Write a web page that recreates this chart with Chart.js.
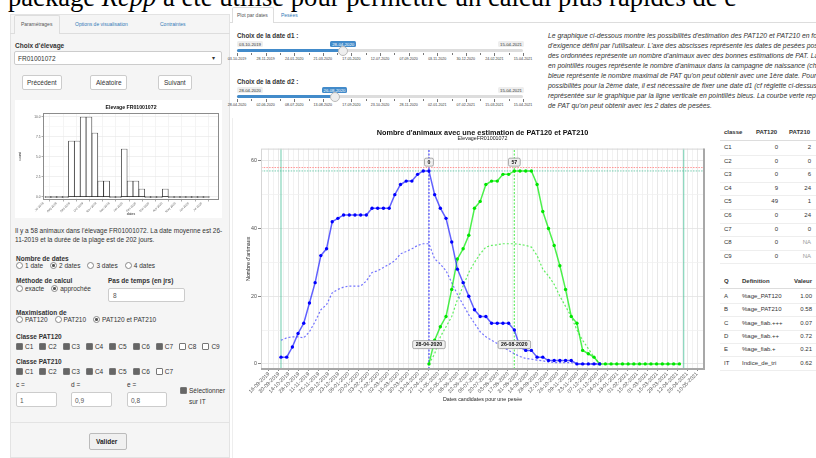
<!DOCTYPE html>
<html lang="fr">
<head>
<meta charset="utf-8">
<title>Elevage FR01001072</title>
<script src="https://cdn.jsdelivr.net/npm/chart.js@4.4.1/dist/chart.umd.min.js"></script>
<style>
body{margin:0;width:816px;height:458px;overflow:hidden;position:relative;background:#fff;font-family:"Liberation Sans",Arial,sans-serif;font-size:6.5px;color:#333}
.a{position:absolute;white-space:nowrap}
.b{font-weight:bold}
.lnk{color:#337ab7}
.o{margin-right:7px}
.box{position:absolute;background:#fff;border:1px solid #ccc;border-radius:2px;box-sizing:border-box}
.rd{display:inline-block;width:5px;height:5px;border:0.8px solid #888;border-radius:50%;background:#fff;vertical-align:-1px;margin-right:2px;position:relative}
.rd.on::after{content:"";position:absolute;left:1.2px;top:1.2px;width:2.6px;height:2.6px;border-radius:50%;background:#555}
.ck{display:inline-block;width:5px;height:5px;border:0.8px solid #777;border-radius:1px;background:#fff;vertical-align:-1px;margin-right:2px}
.ck.on{background:#666}
.pill{position:absolute;font-size:4.3px;padding:0.5px 2px;border-radius:1.5px;background:#eee;color:#333}
.pill.val{background:#428bca;color:#fff}
.track{position:absolute;height:3px;border-radius:2px;background:#ddd}
.fill{position:absolute;height:3px;border-radius:2px;background:#428bca}
.handle{position:absolute;width:10px;height:10px;border-radius:50%;background:#eee;border:1px solid #bbb;box-sizing:border-box}
.tk{position:absolute;width:0.8px;background:#777}
.tl{position:absolute;font-size:3.6px;color:#333;transform:translateX(-50%)}
.desc{position:absolute;left:548px;top:31px;font-size:6.8px;font-style:italic;line-height:10px;white-space:nowrap;color:#333}
.tbl{position:absolute;font-size:6px;color:#333}
.tab{position:absolute;white-space:nowrap;font-size:5px}
</style>
</head>
<body>

<div class="a" style="left:8px;top:-18px;font:26.6px 'Liberation Serif';color:#000">package <i>Rcpp</i> a été utilisé pour permettre un calcul plus rapides de c</div>

<!-- barre latérale -->
<div class="a" style="left:10px;top:14px;width:220px;height:444px;background:#f5f5f5;border:1px solid #e3e3e3;box-sizing:border-box"></div>
<div class="a" style="left:10px;top:33px;width:220px;border-top:1px solid #ddd"></div>
<div class="a" style="left:14px;top:15px;width:46px;height:19px;background:#f5f5f5;border:1px solid #ddd;border-bottom:none;border-radius:2px 2px 0 0;box-sizing:border-box"></div>
<div class="tab" style="left:21px;top:21px;color:#555">Paramétrages</div>
<div class="tab lnk" style="left:75px;top:21px">Options de visualisation</div>
<div class="tab lnk" style="left:160px;top:21px">Contraintes</div>

<div class="a b" style="left:15px;top:42px">Choix d'élevage</div>
<div class="box" style="left:14px;top:51px;width:208px;height:14px"></div>
<div class="a" style="left:18px;top:55px">FR01001072</div>
<div class="a" style="left:212px;top:54px;font-size:6px">▾</div>

<div class="box" style="left:22px;top:75px;width:40px;height:15px"></div>
<div class="a" style="left:27px;top:79px">Précédent</div>
<div class="box" style="left:90px;top:75px;width:37px;height:15px"></div>
<div class="a" style="left:96px;top:79px">Aléatoire</div>
<div class="box" style="left:158px;top:75px;width:34px;height:15px"></div>
<div class="a" style="left:164px;top:79px">Suivant</div>

<div class="a" style="left:15px;top:100px;width:207px;height:118px;background:#fff">
  <canvas id="histo"></canvas>
</div>

<div class="a" style="left:15px;top:226px;line-height:9px">Il y a 58 animaux dans l'élevage FR01001072. La date moyenne est 26-<br>11-2019 et la durée de la plage est de 202 jours.</div>

<div class="a b" style="left:16px;top:255px">Nombre de dates</div>
<div class="a" style="left:16px;top:262px"><span class="o"><span class="rd"></span>1 date</span><span class="o"><span class="rd on"></span>2 dates</span><span class="o"><span class="rd"></span>3 dates</span><span class="o"><span class="rd"></span>4 dates</span></div>

<div class="a b" style="left:16px;top:277px">Méthode de calcul</div>
<div class="a b" style="left:108px;top:277px">Pas de temps (en jrs)</div>
<div class="a" style="left:16px;top:285px"><span class="o"><span class="rd"></span>exacte</span><span class="o"><span class="rd on"></span>approchée</span></div>
<div class="box" style="left:108px;top:288px;width:77px;height:14px"></div>
<div class="a" style="left:113px;top:292px;color:#555">8</div>

<div class="a b" style="left:16px;top:309px">Maximisation de</div>
<div class="a" style="left:16px;top:316px"><span class="o"><span class="rd"></span>PAT120</span><span class="o"><span class="rd"></span>PAT210</span><span class="o"><span class="rd on"></span>PAT120 et PAT210</span></div>

<div class="a b" style="left:16px;top:333px">Classe PAT120</div>
<div id="cls120"></div>
<div class="a b" style="left:16px;top:358px">Classe PAT210</div>
<div id="cls210"></div>

<div class="a" style="left:16px;top:381px">c =</div>
<div class="a" style="left:71px;top:381px">d =</div>
<div class="a" style="left:127px;top:381px">e =</div>
<div class="box" style="left:16px;top:392px;width:41px;height:15px"></div>
<div class="a" style="left:20px;top:397px;color:#555">1</div>
<div class="box" style="left:71px;top:392px;width:41px;height:15px"></div>
<div class="a" style="left:75px;top:397px;color:#555">0,9</div>
<div class="box" style="left:127px;top:392px;width:40px;height:15px"></div>
<div class="a" style="left:131px;top:397px;color:#555">0,8</div>
<div class="a" style="left:180px;top:387px"><span class="ck on"></span>Sélectionner</div>
<div class="a" style="left:189px;top:398px">sur IT</div>

<div class="a" style="left:10px;top:422px;width:220px;border-top:1px solid #e3e3e3"></div>
<div class="box" style="left:89px;top:433px;width:38px;height:17px;background:#f0f0f0;border-color:#bbb"></div>
<div class="a b" style="left:96px;top:438px;color:#222">Valider</div>

<!-- zone principale -->
<div class="a" style="left:230px;top:22px;width:586px;border-top:1px solid #ddd"></div>
<div class="a" style="left:232px;top:7px;width:42px;height:16px;background:#fff;border:1px solid #ddd;border-bottom:none;border-radius:2px 2px 0 0;box-sizing:border-box"></div>
<div class="tab" style="left:237px;top:12px;color:#555">Plot par dates</div>
<div class="tab lnk" style="left:281px;top:12px">Pesées</div>

<div id="sliders"></div>

<div class="desc">Le graphique ci-dessous montre les possibilités d'estimation des PAT120 et PAT210 en fonction du niveau<br>d'exigence défini par l'utilisateur. L'axe des abscisses représente les dates de pesées possibles et l'axe<br>des ordonnées représente un nombre d'animaux avec des bonnes estimations de PAT. La ligne horizontale<br>en pointillés rouges représente le nombre d'animaux dans la campagne de naissance (choisie). La courbe<br>bleue représente le nombre maximal de PAT qu'on peut obtenir avec une 1ère date. Pour voir les<br>possibilités pour la 2ème date, il est nécessaire de fixer une date d1 (cf réglette ci-dessus), qui est<br>représentée sur le graphique par la ligne verticale en pointillés bleus. La courbe verte représente le nombre<br>de PAT qu'on peut obtenir avec les 2 dates de pesées.</div>

<div class="a" style="left:232px;top:118px;width:0;height:340px;border-left:1px solid #eee"></div>
<div class="a" style="left:232px;top:122px;width:480px;height:286px">
  <canvas id="mainChart"></canvas>
</div>

<div id="tables"></div>

<script>
// ---------- données du graphique principal ----------
const stepDays = 8;                 // pas de temps (jrs)
const seriesStart = "03-10-2019";   // première date candidate
const d1 = "28-04-2020";
const d2 = "26-08-2020";
const rangeLines = ["03-10-2019", "21-04-2021"];
const xTickFirst = "16-09-2019";
const xTickLast = "10-05-2021";
const yTicks = [0, 20, 40, 60];
const campaignCount = 58;   // ligne rouge
const maxPat = 57;          // ligne verte horizontale
const topLabels = ["0", "57"];

// PAT max avec une 1ère date (bleu plein) et PAT210 associé (bleu pointillé)
const blueSolid = [2, 2, 5, 9, 12, 18, 24, 32, 34, 42, 43, 44, 44, 44, 44, 44, 46, 46, 46, 46,
  50, 53, 54, 54, 56, 57, 57, 50, 46, 43, 36, 28, 24, 20, 16, 14, 14, 12, 12, 12,
  12, 10, 5, 4, 4, 2, 2, 1, 1, 1, 1, 1, 0, 0, 0, 0, 0];
const blueDotted = [7, 7.7, 8, 8, 7.7, 9.5, 12.5, 16, 17.5, 21, 22, 22.7, 23, 23, 23, 24.5, 27, 27.5, 28.5, 29.4,
  30.5, 32.5, 33.2, 34, 35, 35.5, 35.5, 31, 29.5, 27.5, 24, 20.5, 17.5, 14.5, 12, 9.5, 8, 7, 6, 5,
  4, 3, 2.2, 1.6, 1.4, 1.1, 0.9, 0.6, 0.4, 0.4, 0.4, 0.4, 0, 0, 0, 0, 0];
// PAT avec les 2 dates, à partir de d1 (vert plein / pointillé)
const greenSolid = [0, 7, 11, 14, 22, 31, 34, 38, 46, 48, 53, 54, 54, 56, 56, 57, 57, 57, 57, 53,
  45, 40, 35, 29, 22, 14, 12, 4, 3, 2, 0, 0, 0, 0, 0, 0, 0, 0, 0, 0, 0, 0, 0, 0, 0];
const greenDotted = [0, 3, 8, 11, 14, 19, 23, 27, 30, 32.5, 34.5, 35, 35.2, 35.5, 35.5, 35.5, 35.3, 35, 34.5, 32,
  28, 26, 23.5, 20, 17, 14, 10, 7, 4.5, 2, 0];

// ---------- données de l'histogramme ----------
const histTitle = "Elevage FR01001072";
const histCounts = [0, 0, 0, 0, 7, 7, 10, 10, 8, 2, 2, 0, 0, 6, 2, 2, 1, 0, 0, 0, 1, 0, 0, 0, 0, 0, 0, 0];
const histTickLabels = ["Jul 2019", "Aug 2019", "Sep 2019", "Oct 2019", "Nov 2019", "Dec 2019", "Jan 2020",
  "Feb 2020", "Mar 2020", "Apr 2020", "May 2020", "Jun 2020", "Jul 2020"];
const histTickPos = [-0.8, 1.45, 3.7, 5.95, 8.2, 10.45, 12.7, 14.95, 17.2, 19.45, 21.7, 23.95, 26.2];
const histYTicks = [0, 2.5, 5, 7.5, 10];

// ---------- tableaux ----------
const classes = ["C1", "C2", "C3", "C4", "C5", "C6", "C7", "C8", "C9"];
const pat120 = ["0", "0", "0", "9", "49", "0", "0", "0", "0"];
const pat210 = ["2", "0", "6", "24", "1", "24", "0", "NA", "NA"];
const qCodes = ["A", "B", "C", "D", "E", "IT"];
const qDefs = ["%age_PAT120", "%age_PAT210", "%age_fiab.+++", "%age_fiab.++", "%age_fiab.+", "Indice_de_tri"];
const qVals = ["1.00", "0.58", "0.07", "0.72", "0.21", "0.62"];

// ---------- sliders ----------
const slider1Ticks = ["03-10-2019", "28-11-2019", "24-01-2020", "21-03-2020", "17-05-2020", "12-07-2020",
  "07-09-2020", "03-11-2020", "30-12-2020", "24-02-2021", "15-04-2021"];
const slider2Ticks = ["28-04-2020", "02-06-2020", "08-07-2020", "13-08-2020", "17-09-2020", "23-10-2020",
  "28-11-2020", "02-01-2021", "07-02-2021", "15-03-2021", "15-04-2021"];

const epoch = Date.UTC(2019, 8, 16);
function dayOf(s) {
  const p = s.split("-").map(Number);
  return (Date.UTC(p[2], p[1] - 1, p[0]) - epoch) / 86400000;
}
function pad(n) { return (n < 10 ? "0" : "") + n; }
function fmt(day) {
  const dt = new Date(epoch + day * 86400000);
  return pad(dt.getUTCDate()) + "-" + pad(dt.getUTCMonth() + 1) + "-" + dt.getUTCFullYear();
}
function toPoints(values, start) {
  const s = dayOf(start);
  return values.map((v, i) => ({ x: s + i * stepDays, y: v }));
}

// sliders (HTML)
function buildSlider(top, label, ticks, value) {
  const host = document.getElementById("sliders");
  const left = 237, width = 286;
  const first = dayOf(ticks[0]), last = dayOf(ticks[ticks.length - 1]);
  const hx = left + (dayOf(value) - first) / (last - first) * width;
  let h = '<div class="a b" style="left:237px;top:' + top + 'px;font-size:6.3px">' + label + '</div>';
  h += '<div class="pill" style="left:237px;top:' + (top + 9) + 'px">' + ticks[0] + '</div>';
  h += '<div class="pill" style="left:498px;top:' + (top + 9) + 'px">' + ticks[ticks.length - 1] + '</div>';
  h += '<div class="pill val" style="left:' + (hx - 13) + 'px;top:' + (top + 9) + 'px">' + value + '</div>';
  h += '<div class="track" style="left:' + left + 'px;top:' + (top + 17) + 'px;width:' + width + 'px"></div>';
  h += '<div class="fill" style="left:' + left + 'px;top:' + (top + 17) + 'px;width:' + (hx - left) + 'px"></div>';
  for (let i = 0; i < ticks.length; i++) {
    const x = left + i * width / (ticks.length - 1);
    h += '<div class="tk" style="left:' + x + 'px;top:' + (top + 21) + 'px;height:3px"></div>';
    if (i < ticks.length - 1) h += '<div class="tk" style="left:' + (x + width / (ticks.length - 1) / 2) + 'px;top:' + (top + 21) + 'px;height:2px"></div>';
    h += '<div class="tl" style="left:' + x + 'px;top:' + (top + 25) + 'px">' + ticks[i] + '</div>';
  }
  h += '<div class="handle" style="left:' + (hx - 5) + 'px;top:' + (top + 13.5) + 'px"></div>';
  host.insertAdjacentHTML("beforeend", h);
}
buildSlider(32, "Choix de la date d1 :", slider1Ticks, d1);
buildSlider(78, "Choix de la date d2 :", slider2Ticks, d2);

// cases à cocher
function checks(id, top, n, on) {
  let h = "";
  for (let i = 0; i < n; i++) {
    h += '<div class="a" style="left:' + (16 + i * 23.3) + 'px;top:' + top + 'px"><span class="ck' + (i < on ? ' on' : '') + '"></span>C' + (i + 1) + '</div>';
  }
  document.getElementById(id).innerHTML = h;
}
checks("cls120", 343, 9, 7);
checks("cls210", 368, 7, 6);

// tableaux
(function () {
  let h = '<div class="a b tbl" style="left:724px;top:129px">classe</div>';
  h += '<div class="a b tbl" style="left:756px;top:129px">PAT120</div>';
  h += '<div class="a b tbl" style="left:789px;top:129px">PAT210</div>';
  h += '<div class="a" style="left:720px;top:140px;width:96px;border-top:1.5px solid #ddd"></div>';
  classes.forEach((c, i) => {
    const y = 144 + i * 13.6;
    h += '<div class="a tbl" style="left:724px;top:' + y + 'px">' + c + '</div>';
    h += '<div class="a tbl" style="right:' + (816 - 778) + 'px;top:' + y + 'px">' + pat120[i] + '</div>';
    h += '<div class="a tbl" style="right:' + (816 - 811) + 'px;top:' + y + 'px;' + (pat210[i] === "NA" ? 'color:#999' : '') + '">' + pat210[i] + '</div>';
    h += '<div class="a" style="left:720px;top:' + (y + 10.5) + 'px;width:96px;border-top:1px solid #eee"></div>';
  });
  h += '<div class="a b tbl" style="left:724px;top:278px">Q</div>';
  h += '<div class="a b tbl" style="left:742px;top:278px">Definition</div>';
  h += '<div class="a b tbl" style="right:4px;top:278px">Valeur</div>';
  h += '<div class="a" style="left:720px;top:288px;width:96px;border-top:1.5px solid #ddd"></div>';
  qCodes.forEach((q, i) => {
    const y = 293 + i * 13.3;
    h += '<div class="a tbl" style="left:724px;top:' + y + 'px">' + q + '</div>';
    h += '<div class="a tbl" style="left:742px;top:' + y + 'px">' + qDefs[i] + '</div>';
    h += '<div class="a tbl" style="right:4px;top:' + y + 'px">' + qVals[i] + '</div>';
    h += '<div class="a" style="left:720px;top:' + (y + 10) + 'px;width:96px;border-top:1px solid #eee"></div>';
  });
  document.getElementById("tables").innerHTML = h;
})();

Chart.defaults.font.family = '"Liberation Sans", Arial, sans-serif';
Chart.defaults.color = "#4d4d4d";
Chart.defaults.animation = false;
Chart.defaults.plugins.legend.display = false;
Chart.defaults.plugins.tooltip.enabled = false;

// cadre du panneau (style ggplot)
const frame = {
  id: "frame",
  afterDraw(chart, args, opts) {
    const { ctx, chartArea: a } = chart;
    ctx.save();
    ctx.strokeStyle = opts.color || "#ccc";
    ctx.lineWidth = 1;
    ctx.strokeRect(a.left + 0.5, a.top + 0.5, a.right - a.left - 1, a.bottom - a.top - 1);
    if (opts.shadow) {
      ctx.strokeStyle = "#a8a8a8";
      ctx.lineWidth = 2;
      ctx.beginPath();
      ctx.moveTo(a.left, a.bottom);
      ctx.lineTo(a.right, a.bottom);
      ctx.lineTo(a.right, a.top);
      ctx.stroke();
    }
    ctx.restore();
  }
};

// étiquettes des dates d1 / d2
const tags = {
  id: "tags",
  afterDatasetsDraw(chart) {
    const { ctx, scales: { x, y } } = chart;
    const marks = [
      { text: topLabels[0], day: dayOf(d1), v: 59.6 },
      { text: topLabels[1], day: dayOf(d2), v: 59.6 },
      { text: d1, day: dayOf(d1), v: 5.7 },
      { text: d2, day: dayOf(d2), v: 5.7 }
    ];
    ctx.save();
    ctx.font = 'bold 5.2px "Liberation Sans", Arial, sans-serif';
    ctx.textAlign = "center";
    ctx.textBaseline = "middle";
    marks.forEach(m => {
      const px = x.getPixelForValue(m.day), py = y.getPixelForValue(m.v);
      const w = ctx.measureText(m.text).width + 6, h = 8;
      ctx.beginPath();
      ctx.roundRect(px - w / 2, py - h / 2, w, h, 1.5);
      ctx.fillStyle = "#efefef";
      ctx.fill();
      ctx.strokeStyle = "#8a8a8a";
      ctx.lineWidth = 0.7;
      ctx.stroke();
      ctx.fillStyle = "#111";
      ctx.fillText(m.text, px, py + 0.3);
    });
    ctx.restore();
  }
};

const yMin = -1.5, yMax = 63.6;
const xMin = -11.1, xMax = 611.6;
function vLine(date, color, dash) {
  return { data: [{ x: dayOf(date), y: yMin }, { x: dayOf(date), y: yMax }], borderColor: color, borderWidth: 1.3, borderDash: dash, pointRadius: 0 };
}
function hLine(v, color, dash) {
  return { data: [{ x: xMin, y: v }, { x: xMax, y: v }], borderColor: color, borderWidth: 1, borderDash: dash, pointRadius: 0 };
}

new Chart(document.getElementById("mainChart"), {
  type: "line",
  data: {
    datasets: [
      { data: toPoints(blueSolid, seriesStart), borderColor: "rgba(30,30,255,0.7)", borderWidth: 1.5, pointRadius: 1.7, pointBackgroundColor: "#0000ff", pointBorderWidth: 0 },
      { data: toPoints(greenSolid, d1), borderColor: "rgba(0,235,0,0.7)", borderWidth: 1.5, pointRadius: 1.7, pointBackgroundColor: "#00e600", pointBorderWidth: 0 },
      { data: toPoints(blueDotted, seriesStart), borderColor: "rgba(80,80,255,0.8)", borderWidth: 1.2, borderDash: [2, 2], pointRadius: 0 },
      { data: toPoints(greenDotted, d1), borderColor: "rgba(60,235,60,0.8)", borderWidth: 1.2, borderDash: [2, 2], pointRadius: 0 },
      vLine(d1, "rgba(60,60,255,0.85)", [2, 1.5]),
      vLine(d2, "rgba(90,235,90,0.85)", [2, 1.5]),
      hLine(campaignCount, "rgba(255,120,120,0.8)", [1.5, 1.2]),
      hLine(maxPat, "rgba(70,190,150,0.75)", [1.5, 1.2]),
      vLine(rangeLines[0], "rgba(70,190,150,0.6)", []),
      vLine(rangeLines[1], "rgba(70,190,150,0.6)", [])
    ].map(d => Object.assign({ tension: 0, fill: false }, d))
  },
  options: {
    responsive: true,
    maintainAspectRatio: false,
    layout: { padding: { left: 0, right: 8, top: 0, bottom: 0 } },
    plugins: {
      title: { display: true, fullSize: false, text: "Nombre d'animaux avec une estimation de PAT120 et PAT210", color: "#111", font: { size: 7.3, lineHeight: 1 }, padding: { top: 7, bottom: 0 } },
      subtitle: { display: true, fullSize: false, text: "ElevageFR01001072", color: "#222", font: { size: 5.3, lineHeight: 1 }, padding: { top: 0, bottom: 7 } },
      frame: { shadow: true, color: "#d6d6d6" }
    },
    scales: {
      x: {
        type: "linear", min: xMin, max: xMax,
        afterBuildTicks: s => {
          const t = [];
          for (let d = dayOf(xTickFirst); d <= dayOf(xTickLast); d += 7) t.push({ value: d });
          s.ticks = t;
        },
        afterFit: s => { s.height = 39; },
        border: { display: false },
        grid: {
          color: c => (c.tick && c.tick.value % 14 === 0) ? "#e2e2e2" : "#efefef",
          tickColor: c => (c.tick && c.tick.value % 14 === 0) ? "#666" : "rgba(0,0,0,0)",
          tickLength: 2, lineWidth: 0.8
        },
        ticks: {
          autoSkip: false, minRotation: 45, maxRotation: 45, padding: 0,
          font: { size: 5.3 }, color: "#4d4d4d",
          callback: v => v % 14 === 0 ? fmt(v) : ""
        },
        title: { display: true, text: "Dates candidates pour une pesée", color: "#222", font: { size: 5.3, lineHeight: 1 }, padding: { top: 0, bottom: 6 } }
      },
      y: {
        min: yMin, max: yMax,
        afterBuildTicks: s => {
          const t = [];
          for (let v = yTicks[0]; v <= yTicks[yTicks.length - 1]; v += 10) t.push({ value: v });
          s.ticks = t;
        },
        afterFit: s => { s.width = 29; },
        border: { display: false },
        grid: {
          color: c => (c.tick && yTicks.includes(c.tick.value)) ? "#e2e2e2" : "#f0f0f0",
          tickColor: c => (c.tick && yTicks.includes(c.tick.value)) ? "#666" : "rgba(0,0,0,0)",
          tickLength: 3, lineWidth: 0.8
        },
        ticks: { padding: 1, font: { size: 5.3 }, color: "#4d4d4d", callback: v => yTicks.includes(v) ? String(v) : "" },
        title: { display: true, text: "Nombre d'animaux", color: "#222", font: { size: 5.3, lineHeight: 1 }, padding: { top: 13.5, bottom: 0 } }
      }
    }
  },
  plugins: [frame, tags]
});

// histogramme
new Chart(document.getElementById("histo"), {
  type: "bar",
  data: {
    datasets: [{
      data: histCounts.map((c, i) => ({ x: i, y: c })),
      backgroundColor: "#fff", borderColor: "#1a1a1a", borderWidth: 0.7, borderSkipped: false,
      barPercentage: 1, categoryPercentage: 1, minBarLength: 0.7
    }]
  },
  options: {
    responsive: true,
    maintainAspectRatio: false,
    layout: { padding: { right: 3 } },
    plugins: {
      title: { display: true, fullSize: false, text: histTitle, color: "#111", font: { size: 5.2, lineHeight: 1 }, padding: { top: 4.5, bottom: 3.3 } },
      frame: { color: "#8c8c8c" }
    },
    scales: {
      x: {
        type: "linear", min: -0.84, max: 29.15, offset: false,
        afterBuildTicks: s => { s.ticks = histTickPos.map(v => ({ value: v })); },
        afterFit: s => { s.height = 18; },
        border: { display: false },
        grid: { color: "#ececec", lineWidth: 0.6, tickColor: "#777", tickLength: 1.5 },
        ticks: { autoSkip: false, minRotation: 45, maxRotation: 45, padding: 0, font: { size: 3 }, color: "#555",
          callback: (v, i) => histTickLabels[i] },
        title: { display: true, text: "dates", color: "#222", font: { size: 3.4, lineHeight: 1 }, padding: { top: 0, bottom: 1.8 } }
      },
      y: {
        min: -0.38, max: 10.5,
        afterBuildTicks: s => {
          const t = [];
          for (let v = 0; v <= 10; v += 1.25) t.push({ value: v });
          s.ticks = t;
        },
        afterFit: s => { s.width = 28; },
        border: { display: false },
        grid: {
          color: c => (c.tick && histYTicks.includes(c.tick.value)) ? "#e6e6e6" : "#f3f3f3",
          tickColor: c => (c.tick && histYTicks.includes(c.tick.value)) ? "#777" : "rgba(0,0,0,0)",
          lineWidth: 0.6, tickLength: 1.5
        },
        ticks: { padding: 1, font: { size: 3.2 }, color: "#555", callback: v => histYTicks.includes(v) ? v.toFixed(1) : "" },
        title: { display: true, text: "count", color: "#222", font: { size: 3.4, lineHeight: 1 }, padding: { top: 3.5, bottom: 0 } }
      }
    }
  },
  plugins: [frame]
});
</script>
</body>
</html>
